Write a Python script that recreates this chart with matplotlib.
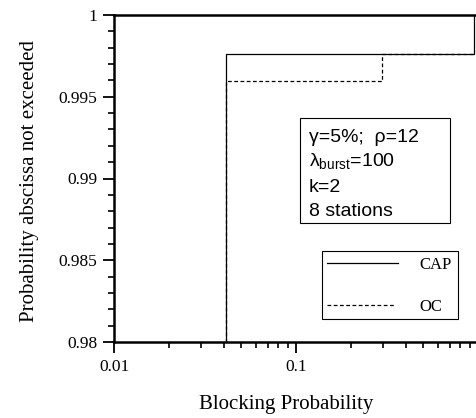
import matplotlib
matplotlib.use("Agg")
import matplotlib.pyplot as plt
from matplotlib.ticker import FixedLocator, NullFormatter, LogLocator

# Data (step CDFs)
cap_x = [0.0412, 0.0412, 0.95, 0.95]
cap_y = [0.98, 0.99761, 0.99761, 1.0]
oc_x = [0.0412, 0.0412, 0.297, 0.297, 0.95]
oc_y = [0.98, 0.99596, 0.99596, 0.99761, 0.99761]

x_ticks = [0.01, 0.1]
x_ticklabels = ["0.01", "0.1"]
y_ticks = [0.98, 0.985, 0.99, 0.995, 1.0]
y_ticklabels = ["0.98", "0.985", "0.99", "0.995", "1"]

serif = ["Liberation Serif", "DejaVu Serif"]
sans = ["Liberation Sans", "DejaVu Sans"]

fig = plt.figure(figsize=(4.76, 4.18), dpi=100)
ax = fig.add_axes([114/476, (418-342)/418, (478-114)/476, (342-15)/418])

ax.plot(cap_x, cap_y, color="black", lw=0.9, solid_joinstyle="miter")
ax.plot(oc_x, oc_y, color="black", lw=0.9, linestyle=(0, (3, 2)))

ax.set_xscale("log")
ax.set_xlim(0.01, 1.0)
ax.set_ylim(0.98, 1.0)

ax.xaxis.set_major_locator(FixedLocator(x_ticks))
ax.set_xticklabels(x_ticklabels, fontfamily=serif, fontsize=12.5)
ax.xaxis.set_minor_locator(LogLocator(base=10, subs=range(2, 10)))
ax.xaxis.set_minor_formatter(NullFormatter())

ax.yaxis.set_major_locator(FixedLocator(y_ticks))
ax.set_yticklabels(y_ticklabels, fontfamily=serif, fontsize=12.5)
ax.yaxis.set_minor_locator(FixedLocator([0.98 + 0.001*i for i in range(21)]))

for s in ax.spines.values():
    s.set_linewidth(1.8)
ax.tick_params(which="major", direction="out", length=8, width=1.3, pad=4)
ax.tick_params(which="minor", direction="out", length=4, width=1.2)

fig.text(286/476, 1 - 404/418, "Blocking Probability", ha="center", va="center",
         fontfamily=serif, fontsize=15)
fig.text(30/476, 1 - 181/418, "Probability abscissa not exceeded", ha="center",
         va="center", rotation=90, fontfamily=serif, fontsize=15)

# Parameter box
box_l, box_r, box_t, box_b = 300, 450, 118, 223
fig.patches.append(plt.Rectangle((box_l/476, 1-box_b/418), (box_r-box_l)/476,
                                 (box_b-box_t)/418, transform=fig.transFigure,
                                 fill=False, lw=0.8, edgecolor="black"))
lines = ["γ=5%;  ρ=12", r"λ$_{\mathregular{burst}}$=100", "k=2", "8 stations"]
ys = [138, 162, 188, 211]
for t, yy in zip(lines, ys):
    fig.text(309/476, 1-yy/418, t, ha="left", va="center", fontfamily=sans,
             fontsize=14)

# Legend box
lg_l, lg_r, lg_t, lg_b = 322, 458, 251, 319
fig.patches.append(plt.Rectangle((lg_l/476, 1-lg_b/418), (lg_r-lg_l)/476,
                                 (lg_b-lg_t)/418, transform=fig.transFigure,
                                 fill=False, lw=0.8, edgecolor="black"))
fig.lines.append(plt.Line2D([327/476, 398/476], [1-263/418, 1-263/418],
                            transform=fig.transFigure, color="black", lw=0.9))
fig.lines.append(plt.Line2D([327/476, 395/476], [1-305/418, 1-305/418],
                            transform=fig.transFigure, color="black", lw=0.9,
                            linestyle=(0, (3, 2))))
fig.text(419/476, 1-265/418, "CAP", ha="left", va="center", fontfamily=serif, fontsize=12)
fig.text(419/476, 1-307/418, "OC", ha="left", va="center", fontfamily=serif, fontsize=12)

fig.savefig("out.png", dpi=100)
